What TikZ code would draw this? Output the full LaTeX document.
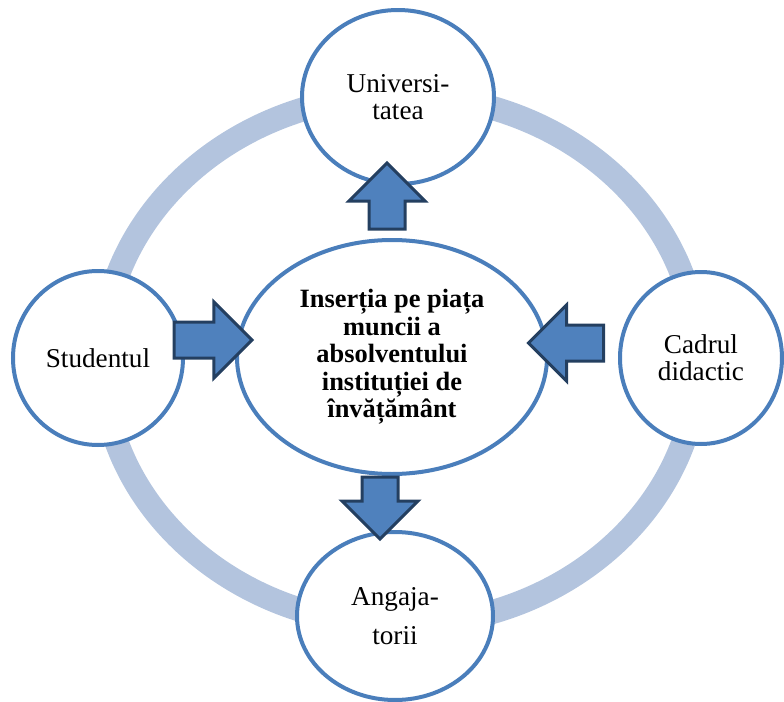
\documentclass[tikz,border=0pt]{standalone}
\usepackage{fontspec}
\setmainfont{Liberation Serif}
\usetikzlibrary{shapes.geometric,shapes.arrows}

\definecolor{ringblue}{RGB}{179,196,222}
\definecolor{edgeblue}{RGB}{74,126,187}
\definecolor{arrowblue}{RGB}{79,129,189}
\definecolor{arrowdark}{RGB}{36,63,96}

\tikzset{
  actor/.style={draw=edgeblue, line width=2pt, fill=white, ellipse, inner sep=0pt, align=center, font=\fontsize{13.6}{13.5}\selectfont},
  hub/.style={actor, font=\fontsize{13.2}{13.75}\selectfont\bfseries},
  flow/.style={single arrow, draw=arrowdark, fill=arrowblue, line width=1.5pt, inner xsep=0pt, inner ysep=8.25pt, minimum width=0pt, single arrow head extend=10pt, single arrow tip angle=90}
}

\begin{document}
\begin{tikzpicture}[x=0.5pt, y=-0.5pt]
      \useasboundingbox (0,0) rectangle (784,702);

      % Ring
      \draw[ringblue, line width=12pt] (400,360) ellipse [x radius=298, y radius=265];

      % Actors
      \node[actor, minimum width=96pt, minimum height=87pt] (univ) at (398,97) {Universi-\\tatea};
      \node[actor, minimum width=85pt, minimum height=87pt] (student) at (98,358) {Studentul};
      \node[actor, minimum width=81pt, minimum height=86pt] (cadru) at (701,358) {Cadrul\\didactic};
      \node[actor, minimum width=98pt, minimum height=84pt] (angaj) at (395,616) {Angaja-\\[6pt]torii};

      % Centre
      \node[hub, minimum width=155pt, minimum height=117pt] (insertie) at (392,357) {Inserția pe piața\\muncii a\\absolventului\\instituției de\\învățământ};

      % Arrows
      \node[flow, minimum height=33pt, rotate=90] (toUniv) at (387,205) {};
      \node[flow, minimum height=39pt] (fromStudent) at (204,340) {};
      \node[flow, minimum height=37.5pt, rotate=180] (fromCadru) at (575,343) {};
      \node[flow, minimum height=31pt, rotate=-90] (toAngaj) at (380,499) {};

    \end{tikzpicture}
\end{document}
